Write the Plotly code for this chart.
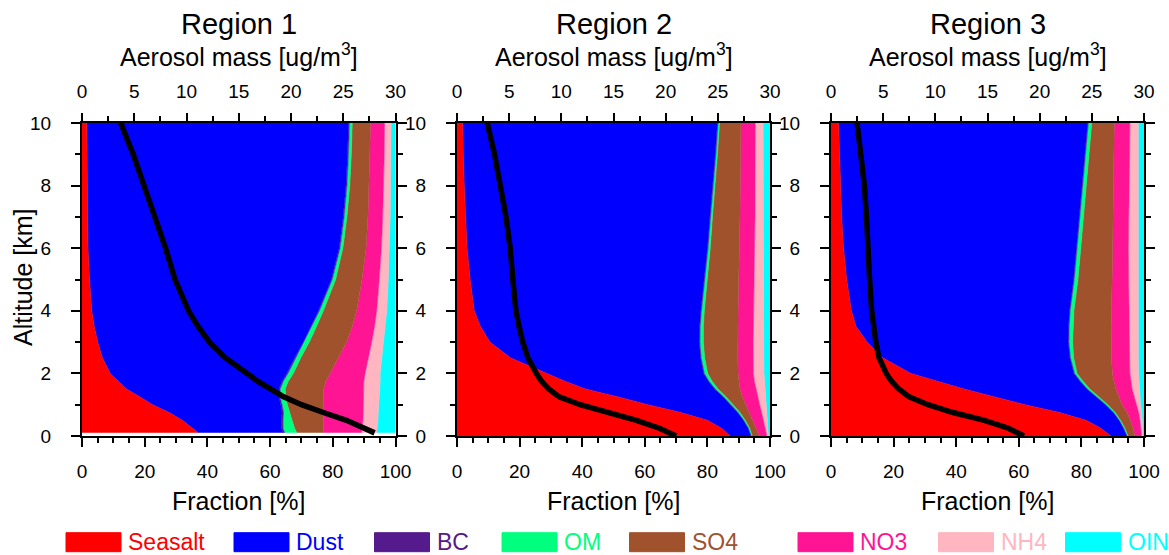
import plotly.graph_objects as go

W, H = 1169, 555

species = ["Seasalt", "Dust", "BC", "OM", "SO4", "NO3", "NH4", "OIN"]
colors = ["#FF0000", "#0000FF", "#551A8B", "#00FF7F", "#A0522D", "#FF1493", "#FFB6C1", "#00FFFF"]
regions = ["Region 1", "Region 2", "Region 3"]

alt = [0.0, 0.25, 0.5, 0.75, 1.0, 1.25, 1.5, 1.75, 2.0, 2.5, 3.0, 3.5, 4.0, 5.0, 6.0, 7.0, 8.0, 9.0, 10.0]
alt_r1 = [0.1] + alt[1:]

# Region 1 fractions [%]
r1_seasalt = [37.1, 35.3, 32.0, 27.8, 22.5, 18.5, 14.2, 11.6, 9.0, 6.5, 5.0, 3.9, 3.1, 2.4, 1.9, 1.8, 1.7, 1.6, 1.5]
r1_dust = [27.1, 28.3, 31.6, 36.0, 40.9, 44.3, 48.6, 52.2, 56.3, 61.3, 65.6, 69.1, 72.3, 77.1, 80.1, 81.5, 82.5, 83.1, 83.5]
r1_bc = [0.5, 0.5, 0.5, 0.5, 0.4, 0.4, 0.4, 0.4, 0.4, 0.4, 0.3, 0.3, 0.3, 0.3, 0.3, 0.3, 0.3, 0.3, 0.3]
r1_om = [3.8, 3.7, 2.9, 1.9, 1.7, 1.8, 1.6, 1.6, 1.7, 1.6, 1.6, 1.5, 1.3, 1.1, 0.9, 0.9, 0.9, 0.9, 0.9]
r1_so4 = [8.5, 9.2, 10.0, 10.8, 11.5, 12.0, 12.2, 12.0, 11.7, 12.0, 11.9, 11.4, 10.6, 8.4, 7.4, 6.7, 6.2, 5.9, 5.8]
r1_no3 = [12.2, 12.4, 12.6, 12.7, 12.7, 12.7, 12.7, 12.1, 11.2, 9.6, 8.0, 7.1, 6.4, 5.5, 4.9, 4.7, 4.6, 4.6, 4.5]
r1_nh4 = [4.8, 4.8, 4.8, 4.8, 5.0, 5.2, 5.4, 5.2, 4.8, 4.2, 3.7, 3.4, 3.2, 2.9, 2.6, 2.4, 2.2, 2.1, 2.1]
r1_oin = [6.0, 5.8, 5.6, 5.5, 5.3, 5.1, 4.9, 4.9, 4.9, 4.4, 3.9, 3.3, 2.8, 2.3, 1.9, 1.7, 1.6, 1.5, 1.4]
r1_mass = [28.0, 27.0, 25.3, 23.1, 21.0, 19.3, 18.0, 16.8, 15.8, 13.7, 12.2, 11.1, 10.2, 8.9, 8.0, 7.0, 5.9, 4.9, 3.7]

# Region 2 fractions [%]
r2_seasalt = [87.3, 84.5, 80.0, 71.5, 61.0, 51.5, 41.0, 34.5, 28.7, 17.0, 10.5, 7.5, 5.5, 4.2, 3.2, 2.7, 2.3, 2.0, 1.8]
r2_dust = [6.6, 8.5, 11.5, 18.1, 26.3, 33.5, 41.3, 45.8, 50.1, 60.8, 66.9, 70.0, 72.4, 74.8, 76.8, 78.1, 79.4, 80.5, 81.4]
r2_bc = [0.1, 0.1, 0.1, 0.2, 0.2, 0.2, 0.2, 0.2, 0.2, 0.2, 0.2, 0.2, 0.2, 0.2, 0.2, 0.2, 0.2, 0.2, 0.2]
r2_om = [0.3, 0.4, 0.5, 0.6, 0.7, 0.8, 0.9, 1.0, 1.1, 1.1, 1.1, 1.0, 0.9, 0.8, 0.7, 0.6, 0.6, 0.5, 0.5]
r2_so4 = [2.3, 2.0, 2.4, 3.1, 4.1, 5.2, 7.0, 8.5, 9.7, 10.6, 11.0, 11.0, 10.8, 10.0, 9.4, 8.8, 8.0, 7.4, 6.8]
r2_no3 = [2.4, 3.0, 3.4, 3.8, 4.4, 4.9, 5.0, 5.0, 4.9, 4.9, 4.9, 5.0, 5.0, 4.9, 4.8, 4.8, 4.7, 4.7, 4.6]
r2_nh4 = [0.5, 0.8, 1.2, 1.6, 2.0, 2.4, 2.9, 3.2, 3.4, 3.4, 3.4, 3.3, 3.2, 3.0, 2.8, 2.6, 2.6, 2.5, 2.5]
r2_oin = [0.5, 0.7, 0.9, 1.1, 1.3, 1.5, 1.7, 1.8, 1.9, 2.0, 2.0, 2.0, 2.0, 2.1, 2.1, 2.2, 2.2, 2.2, 2.2]
r2_mass = [21.0, 19.4, 17.2, 14.3, 11.8, 9.8, 8.8, 8.1, 7.6, 6.8, 6.3, 5.95, 5.65, 5.35, 5.1, 4.7, 4.2, 3.6, 2.9]

# Region 3 fractions [%]
r3_seasalt = [89.4, 86.2, 81.5, 73.0, 62.0, 52.5, 42.5, 34.0, 25.5, 16.5, 11.5, 8.0, 6.5, 5.0, 4.0, 3.4, 3.0, 2.7, 2.4]
r3_dust = [5.1, 7.2, 10.5, 17.1, 25.6, 32.3, 39.2, 45.5, 52.1, 59.8, 64.3, 67.9, 69.7, 72.5, 74.4, 75.9, 77.2, 78.4, 79.6]
r3_bc = [0.1, 0.1, 0.1, 0.2, 0.2, 0.2, 0.2, 0.2, 0.2, 0.2, 0.2, 0.2, 0.2, 0.2, 0.2, 0.2, 0.2, 0.2, 0.2]
r3_om = [0.3, 0.4, 0.4, 0.5, 0.6, 0.7, 0.8, 0.8, 0.8, 1.0, 1.2, 1.3, 1.2, 1.2, 1.2, 1.2, 1.2, 1.1, 1.1]
r3_so4 = [2.2, 2.6, 3.1, 3.8, 4.6, 6.3, 8.3, 9.9, 11.3, 12.1, 12.3, 12.1, 12.0, 11.0, 10.2, 9.4, 8.6, 8.0, 7.2]
r3_no3 = [2.1, 2.5, 3.1, 3.7, 4.5, 4.9, 5.2, 5.4, 5.6, 5.8, 5.8, 5.8, 5.6, 5.2, 5.0, 5.1, 5.1, 5.0, 5.0]
r3_nh4 = [0.5, 0.6, 0.8, 1.0, 1.4, 1.8, 2.3, 2.6, 2.8, 2.8, 2.9, 2.9, 3.0, 3.1, 3.2, 3.0, 2.9, 2.8, 2.7]
r3_oin = [0.3, 0.4, 0.5, 0.7, 1.1, 1.3, 1.5, 1.6, 1.7, 1.8, 1.8, 1.8, 1.8, 1.8, 1.8, 1.8, 1.8, 1.8, 1.8]
r3_mass = [18.5, 17.0, 14.7, 11.7, 9.3, 7.5, 6.5, 5.8, 5.3, 4.6, 4.3, 4.05, 3.9, 3.7, 3.6, 3.4, 3.2, 2.9, 2.5]

frac_ticks = [0, 20, 40, 60, 80, 100]
mass_ticks = [0, 5, 10, 15, 20, 25, 30]
alt_ticks = [0, 2, 4, 6, 8, 10]

panel_data = [
    (alt_r1, [r1_seasalt, r1_dust, r1_bc, r1_om, r1_so4, r1_no3, r1_nh4, r1_oin], r1_mass),
    (alt, [r2_seasalt, r2_dust, r2_bc, r2_om, r2_so4, r2_no3, r2_nh4, r2_oin], r2_mass),
    (alt, [r3_seasalt, r3_dust, r3_bc, r3_om, r3_so4, r3_no3, r3_nh4, r3_oin], r3_mass),
]

FONT = "Liberation Sans, Arial, Helvetica, sans-serif"

# layout geometry (pixels)
panel_x = [(82, 395.5), (457, 770), (831, 1144)]
plot_top, plot_bot = 123, 436


def px(x):
    return x / W


def py(y):
    return 1 - y / H


fig = go.Figure()
layout = dict(
    width=W, height=H,
    margin=dict(l=0, r=0, t=0, b=0, autoexpand=False),
    paper_bgcolor="white", plot_bgcolor="white",
    showlegend=False,
    font=dict(family=FONT, color="black"),
)

annotations = []
shapes = []

for i, (alts, fracs, mass) in enumerate(panel_data):
    xb = f"x{2 * i + 1}"
    xt = f"x{2 * i + 2}"
    yk = f"y{i + 1}"
    for name, col, vals in zip(species, colors, fracs):
        fig.add_trace(go.Scatter(
            x=vals, y=alts, xaxis=xb, yaxis=yk,
            stackgroup=f"r{i}", orientation="h",
            mode="lines", line=dict(width=0.6, color=col),
            fillcolor=col, name=name, hoverinfo="skip",
        ))
    fig.add_trace(go.Scatter(
        x=mass, y=alts, xaxis=xt, yaxis=yk, mode="lines",
        line=dict(color="black", width=5.5), name="Aerosol mass",
    ))

    x0, x1 = panel_x[i]
    dom = [px(x0), px(x1)]
    ydom = [py(plot_bot), py(plot_top)]
    base = "xaxis" if i == 0 else f"xaxis{2 * i + 1}"
    top = f"xaxis{2 * i + 2}"
    yname = "yaxis" if i == 0 else f"yaxis{i + 1}"
    common = dict(
        showgrid=False, zeroline=False, showline=True, linecolor="black", linewidth=2,
        ticks="outside", tickcolor="black", tickwidth=2, automargin=False,
        tickfont=dict(family=FONT, size=19, color="black"),
    )
    layout[base] = dict(
        common, domain=dom, anchor=yk, range=[0, 100], tickvals=frac_ticks,
        ticklen=9, ticklabelstandoff=8, mirror=False,
        minor=dict(dtick=5, tick0=0, ticklen=5, tickwidth=1.5, tickcolor="black", ticks="outside"),
    )
    layout[top] = dict(
        common, overlaying=xb, side="top", anchor=yk, range=[0, 30], tickvals=mass_ticks,
        ticklen=8, ticklabelstandoff=7,
        minor=dict(dtick=2.5, tick0=0, ticklen=5, tickwidth=1.5, tickcolor="black", ticks="outside"),
    )
    layout[yname] = dict(
        common, domain=ydom, anchor=xb, range=[0, 10], tickvals=alt_ticks,
        ticklen=9, ticklabelstandoff=16, mirror="ticks",
        minor=dict(dtick=1, tick0=0, ticklen=5, tickwidth=1.5, tickcolor="black", ticks="outside"),
    )

    cx = (x0 + x1) / 2
    annotations.append(dict(text=regions[i], x=px(cx), y=py(24.5), xref="paper", yref="paper",
                            xanchor="center", yanchor="middle", showarrow=False,
                            font=dict(family=FONT, size=29, color="black")))
    annotations.append(dict(text="Aerosol mass [ug/m<sup>3</sup>]", x=px(cx), y=py(55.5), xref="paper",
                            yref="paper", xanchor="center", yanchor="middle", showarrow=False,
                            font=dict(family=FONT, size=25, color="black")))
    annotations.append(dict(text="Fraction [%]", x=px(cx), y=py(501), xref="paper", yref="paper",
                            xanchor="center", yanchor="middle", showarrow=False,
                            font=dict(family=FONT, size=25, color="black")))

annotations.append(dict(text="Altitude [km]", x=px(22.5), y=py((plot_top + plot_bot) / 2 - 2),
                        xref="paper", yref="paper", xanchor="center", yanchor="middle",
                        textangle=-90, showarrow=False,
                        font=dict(family=FONT, size=25, color="black")))

# legend (boxes + coloured labels)
legend_x = [66, 234, 374.5, 502, 629.5, 798, 938.5, 1065.5]
box_w, box_top, box_bot = 55, 532.7, 551.7
for name, col, bx in zip(species, colors, legend_x):
    shapes.append(dict(type="rect", xref="paper", yref="paper",
                       x0=px(bx), x1=px(bx + box_w), y0=py(box_bot), y1=py(box_top),
                       fillcolor=col, line=dict(width=1, color=col)))
    annotations.append(dict(text=name, x=px(bx + box_w + 5), y=py(541.7), xref="paper", yref="paper",
                            xanchor="left", yanchor="middle", showarrow=False,
                            font=dict(family=FONT, size=23, color=col)))

layout["annotations"] = annotations
layout["shapes"] = shapes
fig.update_layout(**layout)

fig.write_html("out.html")
